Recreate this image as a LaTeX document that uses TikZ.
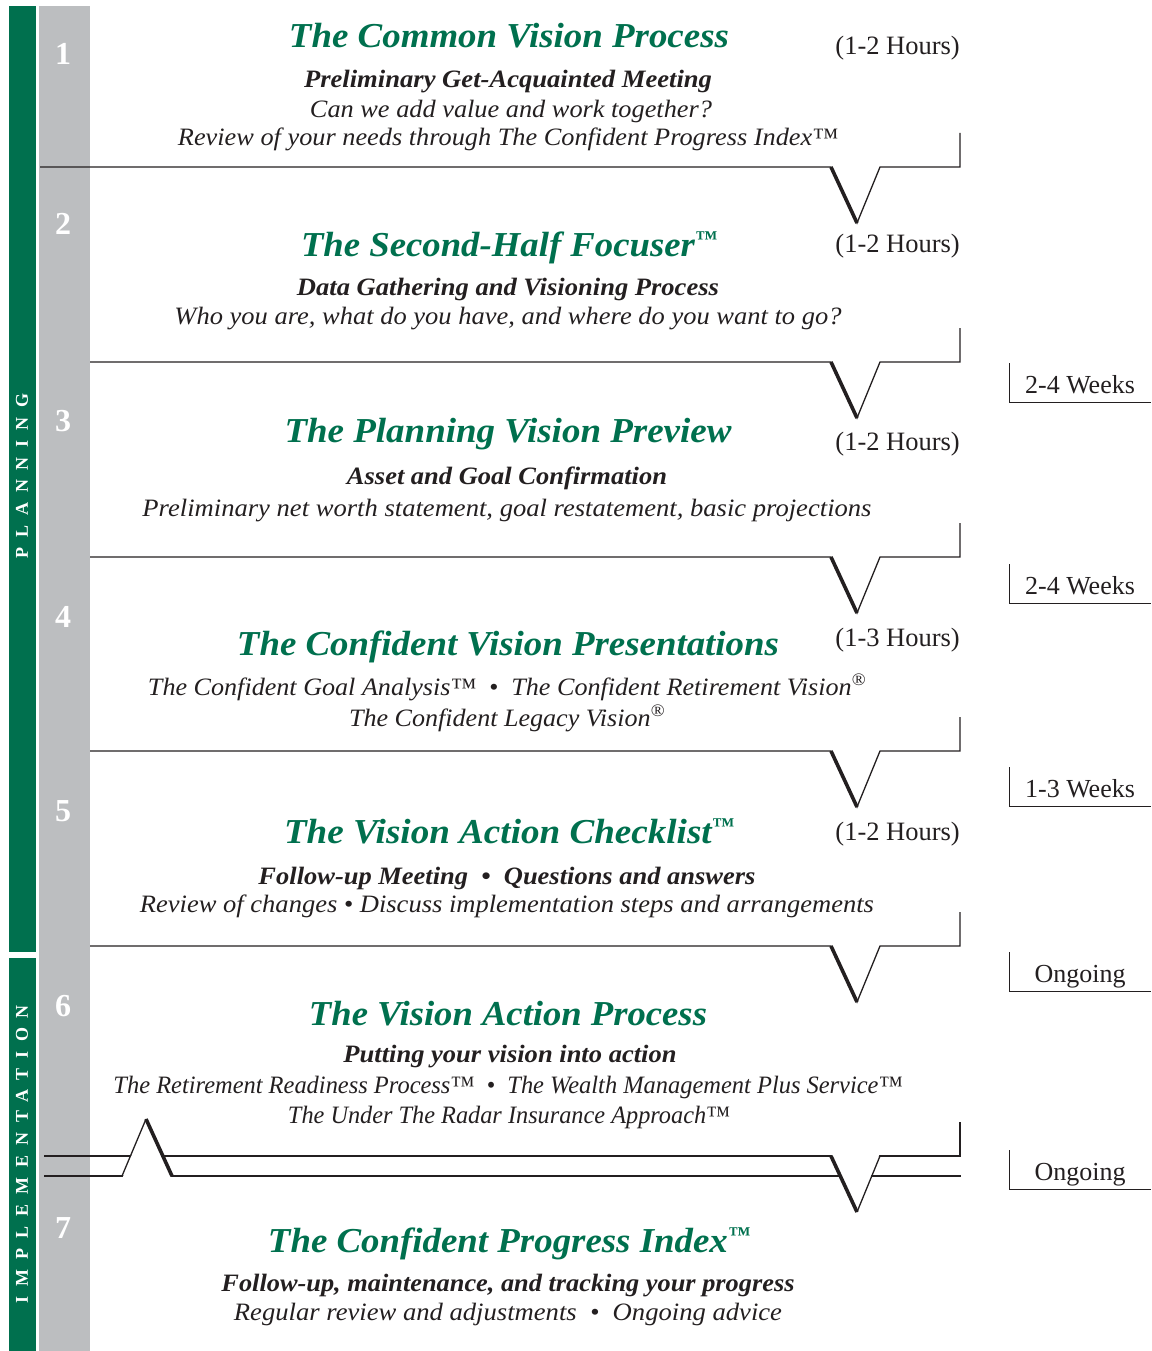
\documentclass[tikz,border=0pt]{standalone}
\usepackage{fontspec}
\usepackage{graphicx}
\setmainfont{Liberation Serif}
\newfontfamily\spacedfont[LetterSpace=55]{Liberation Serif}

\definecolor{visiongreen}{RGB}{0,112,78}
\definecolor{bargray}{RGB}{188,190,192}
\definecolor{inkgray}{RGB}{35,31,32}

\newcommand{\squeeze}[2]{\resizebox{#1pt}{\height}{#2}}
\newcommand{\smalltm}{\raisebox{0.3em}{\scalebox{0.6}{™}}}

\tikzset{
	title/.style={anchor=base, inner sep=0pt, text=visiongreen, font=\fontsize{35}{40}\selectfont\bfseries\itshape},
	lead/.style={anchor=base, inner sep=0pt, text=inkgray, font=\fontsize{25}{30}\selectfont\bfseries\itshape},
	body/.style={anchor=base, inner sep=0pt, text=inkgray, font=\fontsize{25}{30}\selectfont\itshape},
	hours/.style={anchor=base east, inner sep=0pt, text=inkgray, font=\fontsize{26.5}{30}\selectfont},
	weeks/.style={anchor=base, inner sep=0pt, text=inkgray, font=\fontsize{26}{30}\selectfont},
	stepnum/.style={text=white, font=\fontsize{32}{36}\selectfont\bfseries},
	phase/.style={rotate=90, inner sep=0pt, text=white, font=\spacedfont\bfseries\fontsize{18}{20}\selectfont},
	rule/.style={draw=inkgray, line width=1.3pt},
	heavy/.style={draw=inkgray, line width=3.6pt},
	bracket/.style={draw=inkgray, line width=1pt}
}

\begin{document}
\begin{tikzpicture}[x=1pt, y=-1pt]

	\useasboundingbox (0,0) rectangle (1151,1351);

	\fill[visiongreen] (9,6) rectangle (36,952);
	\fill[visiongreen] (9,958) rectangle (36,1351);
	\fill[bargray] (39,6) rectangle (90,1351);

	\node[phase] (plan) at (22,476) {PLANNING};
	\node[phase] (impl) at (22,1154) {IMPLEMENTATION};

	\foreach \n/\y in {1/54, 2/224, 3/421, 4/617, 5/811, 6/1006, 7/1228}
		\node[stepnum] (n\n) at (63,\y) {\n};

	\foreach \y/\xs in {167/40, 362/90, 557/90, 751/90, 946/90} {
		\draw[rule] (\xs,\y) -- (831,\y) -- (857,\y+56) -- (880,\y) -- (960,\y) -- (960,\y-34);
		\draw[heavy] (831,\y) -- (857,\y+56);
	}

	\draw[rule] (44,1156) -- (960,1156) -- (960,1122);
	\draw[rule] (44,1176) -- (961,1176);
	\fill[white] (122,1179) -- (146,1119) -- (172,1179) -- cycle;
	\fill[white] (831,1153) -- (857,1212) -- (880,1153) -- cycle;
	\draw[rule] (122,1176) -- (146,1119);
	\draw[heavy] (146,1119) -- (172,1176);
	\draw[heavy] (831,1156) -- (857,1212);
	\draw[rule] (857,1212) -- (880,1156);

	\foreach \y/\txt [count=\i] in {393/2-4 Weeks, 594/2-4 Weeks, 797/1-3 Weeks, 982/Ongoing, 1180/Ongoing} {
		\node[weeks] (wk\i) at (1080,\y) {\txt};
		\draw[bracket] (1009,\y-30) -- (1009,\y+9) -- (1151,\y+9);
	}

	\foreach \y/\txt [count=\i] in {55/(1-2 Hours), 252/(1-2 Hours), 450/(1-2 Hours), 646/(1-3 Hours), 840/(1-2 Hours)}
		\node[hours] (hr\i) at (960,\y) {\txt};

	\node[title] (t1) at (509,48) {\squeeze{440}{The Common Vision Process}};
	\node[lead] (l1) at (508,88) {\squeeze{408}{Preliminary Get-Acquainted Meeting}};
	\node[body] (a1) at (511,118) {\squeeze{402}{Can we add value and work together?}};
	\node[body] (b1) at (508,146) {\squeeze{660}{Review of your needs through The Confident Progress Index™}};

	\node[title] (t2) at (509,256) {\squeeze{416}{The Second-Half Focuser\smalltm}};
	\node[lead] (l2) at (508,295) {\squeeze{422}{Data Gathering and Visioning Process}};
	\node[body] (a2) at (508,324) {\squeeze{667}{Who you are, what do you have, and where do you want to go?}};

	\node[title] (t3) at (508,442) {\squeeze{447}{The Planning Vision Preview}};
	\node[lead] (l3) at (507,484) {\squeeze{320}{Asset and Goal Confirmation}};
	\node[body] (a3) at (507,516) {\squeeze{729}{Preliminary net worth statement, goal restatement, basic projections}};

	\node[title] (t4) at (508,655) {\squeeze{542}{The Confident Vision Presentations}};
	\node[body] (a4) at (507,695) {\squeeze{718}{The Confident Goal Analysis™\enspace•\enspace The Confident Retirement Vision\textsuperscript{®}}};
	\node[body] (b4) at (507,726) {\squeeze{316}{The Confident Legacy Vision\textsuperscript{®}}};

	\node[title] (t5) at (509,843) {\squeeze{450}{The Vision Action Checklist\smalltm}};
	\node[lead] (l5) at (507,884) {\squeeze{497}{Follow-up Meeting\enspace•\enspace Questions and answers}};
	\node[body] (a5) at (507,912) {\squeeze{734}{Review of changes • Discuss implementation steps and arrangements}};

	\node[title] (t6) at (508,1025) {\squeeze{398}{The Vision Action Process}};
	\node[lead] (l6) at (510,1062) {\squeeze{333}{Putting your vision into action}};
	\node[body] (a6) at (508,1093) {\squeeze{789}{The Retirement Readiness Process™\enspace•\enspace The Wealth Management Plus Service™}};
	\node[body] (b6) at (509,1123) {\squeeze{442}{The Under The Radar Insurance Approach™}};

	\node[title] (t7) at (509,1252) {\squeeze{482}{The Confident Progress Index\smalltm}};
	\node[lead] (l7) at (508,1291) {\squeeze{573}{Follow-up, maintenance, and tracking your progress}};
	\node[body] (a7) at (508,1320) {\squeeze{548}{Regular review and adjustments\enspace•\enspace Ongoing advice}};

\end{tikzpicture}
\end{document}
